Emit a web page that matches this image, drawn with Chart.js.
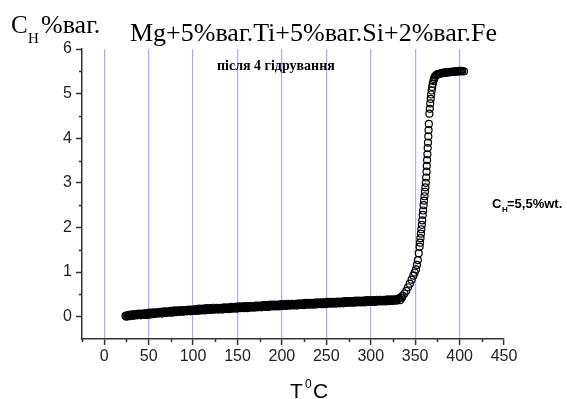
<!DOCTYPE html>
<html>
<head>
<meta charset="utf-8">
<script src="https://cdn.jsdelivr.net/npm/chart.js@4"></script>
<style>
  body { margin: 0; background: #fff; }
  #wrap { width: 567px; height: 399px; }
</style>
</head>
<body>
<div id="wrap"><canvas id="grafico" width="567" height="399"></canvas></div>
<script>
// температура, °C
const temperatura = [
  24, 26, 28, 30, 32, 34, 36, 38, 40, 42, 44, 46, 48, 50, 52, 54, 56, 58, 60, 62,
  64, 66, 68, 70, 72, 74, 76, 78, 80, 82, 84, 86, 88, 90, 92, 94, 96, 98, 100, 102,
  104, 106, 108, 110, 112, 114, 116, 118, 120, 122, 124, 126, 128, 130, 132, 134, 136, 138, 140, 142,
  144, 146, 148, 150, 152, 154, 156, 158, 160, 162, 164, 166, 168, 170, 172, 174, 176, 178, 180, 182,
  184, 186, 188, 190, 192, 194, 196, 198, 200, 202, 204, 206, 208, 210, 212, 214, 216, 218, 220, 222,
  224, 226, 228, 230, 232, 234, 236, 238, 240, 242, 244, 246, 248, 250, 252, 254, 256, 258, 260, 262,
  264, 266, 268, 270, 272, 274, 276, 278, 280, 282, 284, 286, 288, 290, 292, 294, 296, 298, 300, 302,
  304, 306, 308, 310, 312, 314, 316, 318, 320, 322, 324, 326, 328, 330, 332, 334, 336, 338, 340, 342,
  344, 346, 348, 349.5, 351, 352, 353, 354, 355, 355.5, 356, 356.5, 357, 357.5, 358, 358.5, 359, 359.5, 360, 360.5,
  361, 361.5, 362, 362.4, 362.8, 363.1, 363.4, 363.8, 364.1, 364.4, 364.8, 365.1, 365.4, 366, 366.5, 367, 367.5, 368, 368.6, 369.2,
  369.8, 370.5, 371.3, 372, 373, 374, 375, 376, 377, 378, 379, 380, 381, 382, 383, 384, 385, 386, 387, 388,
  389, 390, 391, 392, 393, 394, 395, 396, 397, 398, 399, 400, 401, 402, 403, 405,
  // друга серія вимірів на плато
  25, 27, 29, 31, 33, 35, 37, 39, 41, 43, 45, 47, 49, 51, 53, 55, 57, 59, 61, 63,
  65, 67, 69, 71, 73, 75, 77, 79, 81, 83, 85, 87, 89, 91, 93, 95, 97, 99, 101, 103,
  105, 107, 109, 111, 113, 115, 117, 119, 121, 123, 125, 127, 129, 131, 133, 135, 137, 139, 141, 143,
  145, 147, 149, 151, 153, 155, 157, 159, 161, 163, 165, 167, 169, 171, 173, 175, 177, 179, 181, 183,
  185, 187, 189, 191, 193, 195, 197, 199, 201, 203, 205, 207, 209, 211, 213, 215, 217, 219, 221, 223,
  225, 227, 229, 231, 233, 235, 237, 239, 241, 243, 245, 247, 249, 251, 253, 255, 257, 259, 261, 263,
  265, 267, 269, 271, 273, 275, 277, 279, 281, 283, 285, 287, 289, 291, 293, 295, 297, 299, 301, 303,
  305, 307, 309, 311, 313, 315, 317, 319, 321, 323, 325, 327, 329, 331, 333, 335
];

// вміст водню, %ваг.
const vodenj = [
  0.02, 0.02, 0.03, 0.03, 0.04, 0.03, 0.04, 0.05, 0.05, 0.05, 0.06, 0.05, 0.06, 0.07, 0.07, 0.08, 0.07, 0.08, 0.09, 0.08,
  0.09, 0.10, 0.09, 0.10, 0.11, 0.10, 0.11, 0.12, 0.11, 0.12, 0.13, 0.12, 0.13, 0.13, 0.14, 0.13, 0.14, 0.15, 0.14, 0.15,
  0.15, 0.16, 0.15, 0.16, 0.17, 0.16, 0.17, 0.16, 0.17, 0.18, 0.17, 0.18, 0.17, 0.18, 0.19, 0.18, 0.19, 0.18, 0.19, 0.20,
  0.19, 0.20, 0.21, 0.20, 0.21, 0.20, 0.21, 0.22, 0.21, 0.22, 0.21, 0.22, 0.23, 0.22, 0.23, 0.22, 0.23, 0.24, 0.23, 0.24,
  0.25, 0.24, 0.25, 0.24, 0.25, 0.26, 0.25, 0.26, 0.25, 0.26, 0.27, 0.26, 0.27, 0.26, 0.27, 0.28, 0.27, 0.28, 0.27, 0.28,
  0.29, 0.28, 0.29, 0.28, 0.29, 0.30, 0.29, 0.30, 0.29, 0.30, 0.31, 0.30, 0.31, 0.30, 0.31, 0.30, 0.31, 0.32, 0.31, 0.32,
  0.31, 0.32, 0.33, 0.32, 0.33, 0.32, 0.33, 0.34, 0.33, 0.34, 0.33, 0.34, 0.33, 0.34, 0.35, 0.34, 0.35, 0.34, 0.35, 0.34,
  0.35, 0.36, 0.35, 0.36, 0.35, 0.36, 0.37, 0.36, 0.37, 0.36, 0.37, 0.38, 0.38, 0.39, 0.41, 0.43, 0.47, 0.52, 0.58, 0.66,
  0.74, 0.83, 0.92, 0.99, 1.06, 1.16, 1.27, 1.42, 1.57, 1.66, 1.76, 1.86, 1.96, 2.06, 2.16, 2.28, 2.38, 2.50, 2.60, 2.70,
  2.80, 2.90, 3.00, 3.12, 3.25, 3.38, 3.51, 3.64, 3.78, 3.90, 4.04, 4.18, 4.32, 4.55, 4.66, 4.78, 4.88, 4.98, 5.07, 5.15,
  5.22, 5.28, 5.33, 5.37, 5.40, 5.42, 5.43, 5.44, 5.44, 5.45, 5.45, 5.46, 5.46, 5.47, 5.46, 5.47, 5.48, 5.47, 5.48, 5.48,
  5.49, 5.48, 5.49, 5.49, 5.49, 5.50, 5.49, 5.50, 5.50, 5.50, 5.50, 5.51, 5.50, 5.51, 5.50, 5.50,
  // друга серія вимірів на плато
  0.00, 0.04, 0.01, 0.05, 0.02, 0.06, 0.03, 0.07, 0.03, 0.07, 0.04, 0.08, 0.04, 0.09, 0.05, 0.10, 0.06, 0.10, 0.07, 0.11,
  0.07, 0.12, 0.08, 0.12, 0.09, 0.13, 0.09, 0.14, 0.10, 0.14, 0.11, 0.15, 0.11, 0.15, 0.12, 0.16, 0.12, 0.16, 0.13, 0.17,
  0.13, 0.18, 0.14, 0.18, 0.14, 0.19, 0.15, 0.19, 0.15, 0.20, 0.16, 0.20, 0.16, 0.20, 0.16, 0.21, 0.17, 0.21, 0.17, 0.22,
  0.18, 0.22, 0.18, 0.23, 0.19, 0.23, 0.19, 0.24, 0.19, 0.24, 0.20, 0.24, 0.20, 0.25, 0.21, 0.25, 0.21, 0.26, 0.22, 0.26,
  0.22, 0.27, 0.23, 0.27, 0.23, 0.27, 0.23, 0.28, 0.24, 0.28, 0.24, 0.29, 0.25, 0.29, 0.25, 0.29, 0.25, 0.30, 0.26, 0.30,
  0.26, 0.31, 0.27, 0.31, 0.27, 0.31, 0.27, 0.32, 0.28, 0.32, 0.28, 0.32, 0.28, 0.33, 0.29, 0.33, 0.29, 0.33, 0.29, 0.34,
  0.30, 0.34, 0.30, 0.35, 0.31, 0.35, 0.31, 0.35, 0.31, 0.36, 0.32, 0.36, 0.32, 0.36, 0.32, 0.37, 0.33, 0.37, 0.33, 0.37,
  0.33, 0.38, 0.34, 0.38, 0.34, 0.38, 0.34, 0.39, 0.35, 0.39, 0.35, 0.39, 0.36, 0.40, 0.37, 0.42
];

const ticksX = [0, 50, 100, 150, 200, 250, 300, 350, 400, 450];
const ticksY = [0, 1, 2, 3, 4, 5, 6];
const menoresX = [-25, 25, 75, 125, 175, 225, 275, 325, 375, 425];
const menoresY = [0.5, 1.5, 2.5, 3.5, 4.5, 5.5];

const puntos = temperatura.map((t, i) => ({ x: t, y: vodenj[i] }));

// підписи та дрібні поділки
const textos = {
  id: "textos",
  afterDraw(chart) {
    const ctx = chart.ctx;
    const sx = chart.scales.x;
    const sy = chart.scales.y;
    ctx.save();

    // дрібні поділки
    ctx.strokeStyle = "#333";
    ctx.lineWidth = 1.5;
    ctx.beginPath();
    menoresX.forEach((v) => {
      const px = Math.round(sx.getPixelForValue(v)) + 0.5;
      ctx.moveTo(px, sx.top);
      ctx.lineTo(px, sx.top + 3);
    });
    menoresY.forEach((v) => {
      const py = Math.round(sy.getPixelForValue(v)) + 0.5;
      ctx.moveTo(sy.right, py);
      ctx.lineTo(sy.right - 3, py);
    });
    ctx.stroke();

    ctx.fillStyle = "#000";
    ctx.textBaseline = "alphabetic";
    ctx.textAlign = "left";

    ctx.font = "25px 'Liberation Serif'";
    ctx.fillText("C", 11, 33);
    ctx.font = "15px 'Liberation Serif'";
    ctx.fillText("Н", 28, 43);
    ctx.font = "26px 'Liberation Serif'";
    ctx.fillText("%ваг.", 41, 33);

    ctx.fillText("Mg+5%ваг.Ti+5%ваг.Si+2%ваг.Fe", 130, 41);

    ctx.font = "bold 14px 'Liberation Serif'";
    ctx.fillText("після 4 гідрування", 217, 70);

    ctx.font = "bold 13px 'Liberation Sans'";
    ctx.fillText("C", 492, 208);
    ctx.font = "bold 8px 'Liberation Sans'";
    ctx.fillText("Н", 502, 212);
    ctx.font = "bold 13px 'Liberation Sans'";
    ctx.fillText("=5,5%wt.", 507, 208);

    ctx.font = "21px 'Liberation Sans'";
    ctx.fillText("T", 290, 398);
    ctx.font = "12px 'Liberation Sans'";
    ctx.fillText("0", 305, 388);
    ctx.font = "21px 'Liberation Sans'";
    ctx.fillText("C", 313, 398);

    ctx.restore();
  },
};

const ctx = document.getElementById("grafico").getContext("2d");

new Chart(ctx, {
  type: "scatter",
  data: {
    datasets: [
      {
        data: puntos,
        pointStyle: "circle",
        pointRadius: 3.5,
        borderColor: "#000",
        backgroundColor: "rgba(0,0,0,0)",
        borderWidth: 1.2,
        showLine: false,
      },
    ],
  },
  options: {
    responsive: false,
    animation: false,
    events: [],
    layout: { padding: { top: 49, right: 63, left: 0, bottom: 0 } },
    plugins: { legend: { display: false }, tooltip: { enabled: false } },
    scales: {
      x: {
        type: "linear",
        min: -25,
        max: 450,
        afterBuildTicks: (scale) => {
          scale.ticks = ticksX.map((v) => ({ value: v }));
        },
        afterFit: (scale) => {
          scale.height = 60;
        },
        border: { color: "#333", width: 1.5 },
        grid: {
          color: (c) => (c.tick && c.tick.value < 450 ? "#aaaaff" : "rgba(0,0,0,0)"),
          lineWidth: 1.2,
          tickColor: "#333",
          tickWidth: 1.5,
          tickLength: 6,
        },
        ticks: {
          color: "#222",
          font: { family: "'Liberation Sans'", size: 16 },
          padding: 2,
          maxRotation: 0,
        },
      },
      y: {
        type: "linear",
        min: -0.5,
        max: 6,
        afterBuildTicks: (scale) => {
          scale.ticks = ticksY.map((v) => ({ value: v }));
        },
        afterFit: (scale) => {
          scale.width = 82;
        },
        border: { color: "#333", width: 1.5 },
        grid: {
          drawOnChartArea: false,
          tickColor: "#333",
          tickWidth: 1.5,
          tickLength: 6,
        },
        ticks: {
          color: "#222",
          font: { family: "'Liberation Sans'", size: 16 },
          padding: 4,
        },
      },
    },
  },
  plugins: [textos],
});
</script>
</body>
</html>
